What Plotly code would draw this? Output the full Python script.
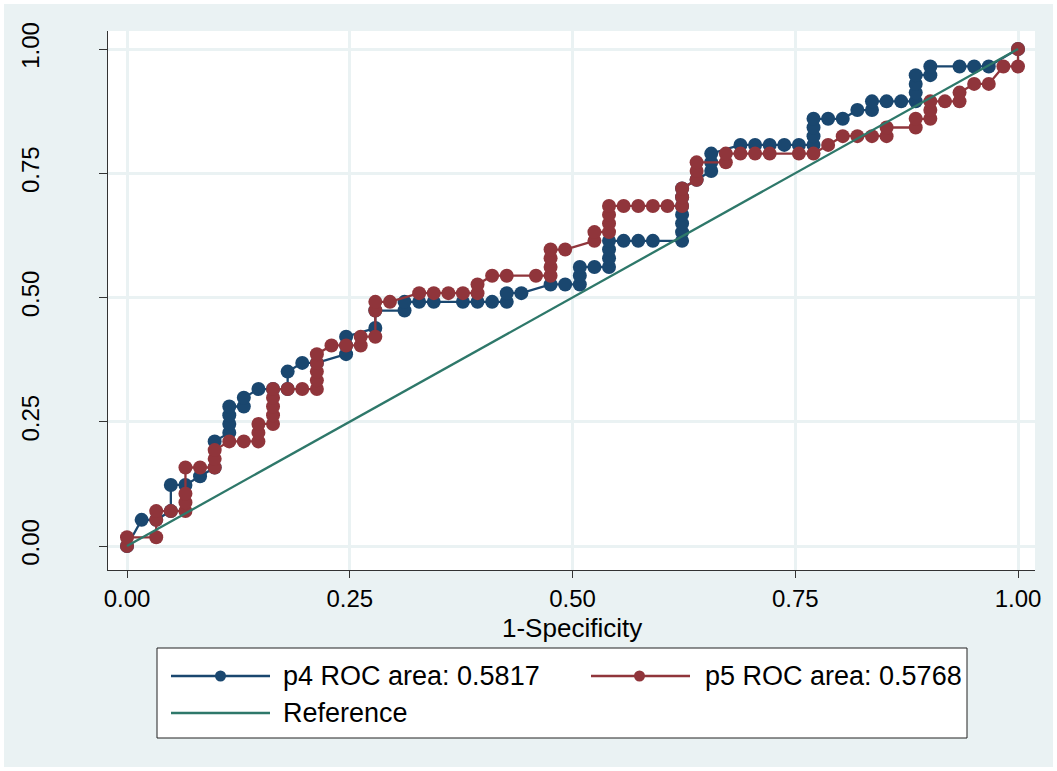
import plotly.graph_objects as go

# ROC coordinates: false-positive rate (1-specificity) and sensitivity
p4_fpr = [0, 0.0164, 0.0328, 0.0492, 0.0492, 0.0656, 0.0820, 0.0984, 0.0984, 0.1148,
          0.1148, 0.1148, 0.1148, 0.1311, 0.1311, 0.1475, 0.1639, 0.1803, 0.1803, 0.1967,
          0.2131, 0.2459, 0.2459, 0.2459, 0.2787, 0.2787, 0.3115, 0.3115, 0.3279, 0.3443,
          0.3770, 0.3934, 0.4098, 0.4262, 0.4262, 0.4426, 0.4754, 0.4918, 0.5082, 0.5082,
          0.5082, 0.5246, 0.5410, 0.5410, 0.5410, 0.5410, 0.5574, 0.5738, 0.5902, 0.6230,
          0.6230, 0.6230, 0.6230, 0.6230, 0.6230, 0.6230, 0.6393, 0.6557, 0.6557, 0.6557,
          0.6885, 0.7049, 0.7213, 0.7377, 0.7541, 0.7705, 0.7705, 0.7705, 0.7705, 0.7869,
          0.8033, 0.8197, 0.8361, 0.8361, 0.8525, 0.8689, 0.8852, 0.8852, 0.8852, 0.8852,
          0.9016, 0.9016, 0.9344, 0.9508, 0.9672, 1.0]
p4_tpr = [0, 0.0526, 0.0526, 0.0702, 0.1228, 0.1228, 0.1404, 0.1579, 0.2105, 0.2281,
          0.2456, 0.2632, 0.2807, 0.2807, 0.2982, 0.3158, 0.3158, 0.3158, 0.3509, 0.3684,
          0.3684, 0.3860, 0.4035, 0.4211, 0.4386, 0.4737, 0.4737, 0.4912, 0.4912, 0.4912,
          0.4912, 0.4912, 0.4912, 0.4912, 0.5088, 0.5088, 0.5263, 0.5263, 0.5263, 0.5439,
          0.5614, 0.5614, 0.5614, 0.5789, 0.5965, 0.6140, 0.6140, 0.6140, 0.6140, 0.6140,
          0.6316, 0.6491, 0.6667, 0.6842, 0.7018, 0.7193, 0.7368, 0.7544, 0.7719, 0.7895,
          0.8070, 0.8070, 0.8070, 0.8070, 0.8070, 0.8070, 0.8246, 0.8421, 0.8596, 0.8596,
          0.8596, 0.8772, 0.8772, 0.8947, 0.8947, 0.8947, 0.8947, 0.9123, 0.9298, 0.9474,
          0.9474, 0.9649, 0.9649, 0.9649, 0.9649, 1.0]

p5_fpr = [0, 0, 0.0328, 0.0328, 0.0328, 0.0492, 0.0656, 0.0656, 0.0656, 0.0656,
          0.0820, 0.0984, 0.0984, 0.0984, 0.1148, 0.1311, 0.1475, 0.1475, 0.1475, 0.1639,
          0.1639, 0.1639, 0.1639, 0.1639, 0.1803, 0.1967, 0.2131, 0.2131, 0.2131, 0.2131,
          0.2131, 0.2295, 0.2459, 0.2623, 0.2623, 0.2787, 0.2787, 0.2787, 0.2951, 0.3279,
          0.3443, 0.3607, 0.3770, 0.3934, 0.3934, 0.4098, 0.4262, 0.4590, 0.4754, 0.4754,
          0.4754, 0.4754, 0.4918, 0.5246, 0.5246, 0.5410, 0.5410, 0.5410, 0.5410, 0.5574,
          0.5738, 0.5902, 0.6066, 0.6230, 0.6230, 0.6230, 0.6393, 0.6393, 0.6393, 0.6721,
          0.6721, 0.6885, 0.7049, 0.7213, 0.7541, 0.7705, 0.7869, 0.8033, 0.8197, 0.8361,
          0.8525, 0.8525, 0.8852, 0.8852, 0.9016, 0.9016, 0.9016, 0.9180, 0.9344, 0.9344,
          0.9508, 0.9672, 0.9836, 1.0, 1.0]
p5_tpr = [0, 0.0175, 0.0175, 0.0526, 0.0702, 0.0702, 0.0702, 0.0877, 0.1053, 0.1579,
          0.1579, 0.1579, 0.1754, 0.1930, 0.2105, 0.2105, 0.2105, 0.2281, 0.2456, 0.2456,
          0.2632, 0.2807, 0.2982, 0.3158, 0.3158, 0.3158, 0.3158, 0.3333, 0.3509, 0.3684,
          0.3860, 0.4035, 0.4035, 0.4035, 0.4211, 0.4211, 0.4737, 0.4912, 0.4912, 0.5088,
          0.5088, 0.5088, 0.5088, 0.5088, 0.5263, 0.5439, 0.5439, 0.5439, 0.5439, 0.5614,
          0.5789, 0.5965, 0.5965, 0.6140, 0.6316, 0.6316, 0.6491, 0.6667, 0.6842, 0.6842,
          0.6842, 0.6842, 0.6842, 0.6842, 0.7018, 0.7193, 0.7368, 0.7544, 0.7719, 0.7719,
          0.7895, 0.7895, 0.7895, 0.7895, 0.7895, 0.7895, 0.8070, 0.8246, 0.8246, 0.8246,
          0.8246, 0.8421, 0.8421, 0.8596, 0.8596, 0.8772, 0.8947, 0.8947, 0.8947, 0.9123,
          0.9298, 0.9298, 0.9649, 0.9649, 1.0]

ref_x = [0, 1]
ref_y = [0, 1]

tick_vals = [0, 0.25, 0.5, 0.75, 1]
tick_text = ["0.00", "0.25", "0.50", "0.75", "1.00"]

x_title = "1-Specificity"
legend_labels = ["p4 ROC area: 0.5817", "p5 ROC area: 0.5768", "Reference"]

# Stata s2color-like palette
NAVY = "#1a476f"
MAROON = "#90353b"
TEAL = "#2e786a"
BG = "#eaf2f3"
GRID = "#eaf2f3"
AXIS = "#333333"
FONT = "Liberation Sans, Arial, sans-serif"

W, H = 1057, 771
PLOT_L, PLOT_R, PLOT_T, PLOT_B = 108, 1035, 31, 570
PLOT_W = PLOT_R - PLOT_L
PLOT_H = PLOT_B - PLOT_T

# axis scale: x=0 at px 127, x=1 at px 1018; y=0 at px 546, y=1 at px 49
x_range = [(PLOT_L - 127) / 891, (PLOT_R - 127) / 891]
y_range = [(546 - PLOT_B) / 497, (546 - PLOT_T) / 497]


def fx(px):
    return (px - PLOT_L) / PLOT_W


def fy(py):
    return (PLOT_B - py) / PLOT_H


fig = go.Figure()

fig.add_trace(go.Scatter(
    x=p4_fpr, y=p4_tpr, mode="lines+markers", name=legend_labels[0],
    line=dict(color=NAVY, width=2.3),
    marker=dict(color=NAVY, size=14, symbol="circle"),
))
fig.add_trace(go.Scatter(
    x=p5_fpr, y=p5_tpr, mode="lines+markers", name=legend_labels[1],
    line=dict(color=MAROON, width=2.3),
    marker=dict(color=MAROON, size=14, symbol="circle"),
))
fig.add_trace(go.Scatter(
    x=ref_x, y=ref_y, mode="lines", name=legend_labels[2],
    line=dict(color=TEAL, width=2.3),
))

shapes = []
annotations = []

# thin white frame around the graph region
for x0, y0, x1, y1 in [(0, 0, W, 4), (0, H - 4, W, H), (0, 0, 4, H), (W - 4, 0, W, H)]:
    shapes.append(dict(type="rect", xref="paper", yref="paper",
                       x0=fx(x0), x1=fx(x1), y0=fy(y1), y1=fy(y0),
                       fillcolor="white", line=dict(width=0), layer="above"))

# legend box
LEG_L, LEG_R, LEG_T, LEG_B = 157, 967, 648, 738
shapes.append(dict(type="rect", xref="paper", yref="paper",
                   x0=fx(LEG_L), x1=fx(LEG_R), y0=fy(LEG_B), y1=fy(LEG_T),
                   fillcolor="white", line=dict(color="#222222", width=1)))

legend_items = [
    (171, 270, 220.5, 676, NAVY, True, 281, legend_labels[0]),
    (591, 690, 639.5, 676, MAROON, True, 703, legend_labels[1]),
    (171, 270, None, 713, TEAL, False, 281, legend_labels[2]),
]
for lx0, lx1, mx, ly, col, has_marker, tx, label in legend_items:
    shapes.append(dict(type="line", xref="paper", yref="paper",
                       x0=fx(lx0), x1=fx(lx1), y0=fy(ly), y1=fy(ly),
                       line=dict(color=col, width=2.3)))
    if has_marker:
        shapes.append(dict(type="circle", xref="paper", yref="paper",
                           xsizemode="pixel", ysizemode="pixel",
                           xanchor=fx(mx), yanchor=fy(ly),
                           x0=-5.5, x1=5.5, y0=-5.5, y1=5.5,
                           fillcolor=col, line=dict(color=col, width=0)))
    annotations.append(dict(xref="paper", yref="paper", x=fx(tx), y=fy(ly),
                            text=label, showarrow=False, xanchor="left",
                            yanchor="middle",
                            font=dict(family=FONT, size=27, color="black")))

# x-axis title, set just under the tick labels
annotations.append(dict(xref="paper", yref="paper", x=fx(572), y=fy(628),
                        text=x_title, showarrow=False, xanchor="center",
                        yanchor="middle",
                        font=dict(family=FONT, size=26, color="black")))

fig.update_layout(
    width=W, height=H,
    margin=dict(l=PLOT_L, r=W - PLOT_R, t=PLOT_T, b=H - PLOT_B, pad=0),
    paper_bgcolor=BG,
    plot_bgcolor="white",
    showlegend=False,
    font=dict(family=FONT, color="black"),
    shapes=shapes,
    annotations=annotations,
)

fig.update_xaxes(
    range=x_range, tickvals=tick_vals, ticktext=tick_text,
    showgrid=True, gridcolor=GRID, gridwidth=3,
    zeroline=False, showline=True, linecolor=AXIS, linewidth=1,
    ticks="outside", ticklen=7, tickcolor=AXIS, tickwidth=1,
    tickfont=dict(family=FONT, size=24, color="black"),
    ticklabelstandoff=0,
)
fig.update_yaxes(
    range=y_range, tickvals=tick_vals, ticktext=tick_text,
    showgrid=True, gridcolor=GRID, gridwidth=3,
    zeroline=False, showline=True, linecolor=AXIS, linewidth=1,
    ticks="outside", ticklen=8, tickcolor=AXIS, tickwidth=1,
    tickangle=-90,
    tickfont=dict(family=FONT, size=24, color="black"),
    ticklabelstandoff=50,
)

fig.write_html("out.html")
